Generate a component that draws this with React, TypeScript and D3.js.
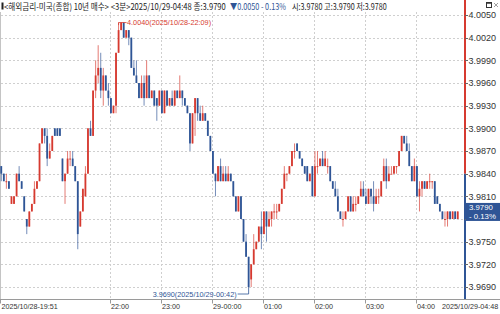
import React, { useLayoutEffect, useRef, useState } from "react";
import * as d3 from "d3";

// ---- data (3-minute candles, 2025/10/28-19:51 .. 2025/10/29-04:48) ----
const START_LABEL = "2025/10/28-19:51";
const END_LABEL = "2025/10/29-04:48";
const START_HOUR = 19;
const START_MIN = 51;
const BAR_MINUTES = 3;

const OPEN = [
  3.985, 3.984, 3.983, 3.983, 3.980, 3.980, 3.981, 3.984, 3.983, 3.981,
  3.978, 3.977, 3.979, 3.980, 3.982, 3.983, 3.988, 3.990, 3.989, 3.986,
  3.987, 3.990, 3.990, 3.990, 3.986, 3.983, 3.984, 3.986, 3.986, 3.985,
  3.983, 3.977, 3.979, 3.981, 3.984, 3.990, 3.989, 3.995, 3.997, 3.998,
  3.995, 3.997, 3.995, 3.994, 3.992, 3.993, 4.000, 4.003, 4.004, 4.002,
  4.003, 4.002, 3.998, 3.997, 3.996, 3.994, 3.996, 3.994, 3.997, 3.994,
  3.995, 3.994, 3.993, 3.995, 3.992, 3.995, 3.993, 3.994, 3.993, 3.995,
  3.994, 3.995, 3.994, 3.993, 3.992, 3.988, 3.992, 3.994, 3.992, 3.991,
  3.992, 3.991, 3.989, 3.987, 3.984, 3.983, 3.985, 3.983, 3.984, 3.983,
  3.984, 3.983, 3.981, 3.979, 3.981, 3.978, 3.975, 3.973, 3.970, 3.972,
  3.974, 3.975, 3.977, 3.976, 3.979, 3.977, 3.978, 3.979, 3.979, 3.979,
  3.980, 3.982, 3.984, 3.984, 3.985, 3.987, 3.988, 3.987, 3.986, 3.985,
  3.985, 3.983, 3.985, 3.981, 3.985, 3.985, 3.986, 3.985, 3.985, 3.985,
  3.983, 3.982, 3.981, 3.979, 3.978, 3.978, 3.979, 3.981, 3.979, 3.980,
  3.980, 3.981, 3.982, 3.981, 3.980, 3.982, 3.981, 3.980, 3.981, 3.981,
  3.983, 3.985, 3.983, 3.984, 3.984, 3.985, 3.985, 3.987, 3.989, 3.988,
  3.987, 3.985, 3.983, 3.985, 3.981, 3.982, 3.983, 3.982, 3.983, 3.983,
  3.983, 3.981, 3.980, 3.979, 3.978, 3.978, 3.979, 3.978, 3.979, 3.978,
];
const HIGH = [
  3.985, 3.984, 3.984, 3.983, 3.981, 3.981, 3.984, 3.985, 3.983, 3.981,
  3.978, 3.979, 3.980, 3.983, 3.983, 3.988, 3.990, 3.990, 3.990, 3.988,
  3.989, 3.990, 3.990, 3.990, 3.986, 3.984, 3.987, 3.987, 3.987, 3.985,
  3.983, 3.979, 3.982, 3.985, 3.990, 3.991, 3.995, 3.999, 4.001, 4.000,
  3.998, 3.997, 3.996, 3.994, 3.993, 4.000, 4.004, 4.004, 4.004, 4.003,
  4.003, 4.002, 3.999, 3.999, 3.996, 3.997, 3.997, 3.999, 3.997, 3.995,
  3.995, 3.994, 3.995, 3.995, 3.995, 3.995, 3.994, 3.995, 3.995, 3.995,
  3.997, 3.995, 3.994, 3.993, 3.992, 3.992, 3.994, 3.994, 3.993, 3.993,
  3.992, 3.991, 3.989, 3.987, 3.984, 3.985, 3.986, 3.985, 3.985, 3.985,
  3.984, 3.983, 3.981, 3.981, 3.981, 3.978, 3.976, 3.973, 3.972, 3.976,
  3.975, 3.977, 3.979, 3.979, 3.979, 3.979, 3.979, 3.980, 3.980, 3.980,
  3.982, 3.985, 3.984, 3.985, 3.987, 3.988, 3.988, 3.987, 3.986, 3.985,
  3.985, 3.984, 3.985, 3.987, 3.987, 3.986, 3.987, 3.987, 3.986, 3.985,
  3.983, 3.983, 3.982, 3.979, 3.979, 3.979, 3.981, 3.981, 3.981, 3.981,
  3.981, 3.983, 3.983, 3.982, 3.982, 3.982, 3.983, 3.982, 3.982, 3.983,
  3.986, 3.986, 3.985, 3.985, 3.985, 3.985, 3.987, 3.989, 3.989, 3.989,
  3.988, 3.985, 3.986, 3.985, 3.983, 3.983, 3.983, 3.983, 3.984, 3.983,
  3.983, 3.981, 3.980, 3.979, 3.979, 3.979, 3.979, 3.979, 3.979, 3.979,
];
const LOW = [
  3.983, 3.983, 3.982, 3.982, 3.980, 3.980, 3.981, 3.983, 3.982, 3.979,
  3.976, 3.977, 3.979, 3.980, 3.982, 3.983, 3.988, 3.988, 3.985, 3.986,
  3.987, 3.989, 3.989, 3.989, 3.983, 3.980, 3.984, 3.985, 3.985, 3.983,
  3.974, 3.977, 3.979, 3.981, 3.984, 3.989, 3.989, 3.994, 3.996, 3.994,
  3.993, 3.995, 3.993, 3.992, 3.992, 3.992, 4.000, 4.003, 4.002, 4.002,
  4.001, 3.998, 3.997, 3.996, 3.994, 3.994, 3.993, 3.994, 3.994, 3.994,
  3.993, 3.991, 3.993, 3.992, 3.992, 3.993, 3.993, 3.993, 3.993, 3.994,
  3.994, 3.993, 3.993, 3.992, 3.987, 3.988, 3.989, 3.991, 3.991, 3.991,
  3.991, 3.989, 3.987, 3.984, 3.981, 3.983, 3.983, 3.983, 3.983, 3.983,
  3.983, 3.981, 3.979, 3.979, 3.978, 3.975, 3.973, 3.969, 3.969, 3.972,
  3.974, 3.975, 3.974, 3.976, 3.975, 3.977, 3.977, 3.978, 3.978, 3.979,
  3.980, 3.982, 3.983, 3.984, 3.985, 3.986, 3.987, 3.986, 3.985, 3.984,
  3.983, 3.983, 3.981, 3.981, 3.984, 3.985, 3.985, 3.985, 3.984, 3.983,
  3.982, 3.981, 3.979, 3.978, 3.977, 3.978, 3.979, 3.979, 3.979, 3.979,
  3.980, 3.981, 3.981, 3.980, 3.980, 3.980, 3.979, 3.980, 3.980, 3.981,
  3.983, 3.982, 3.983, 3.984, 3.984, 3.984, 3.985, 3.987, 3.988, 3.987,
  3.985, 3.983, 3.983, 3.981, 3.979, 3.981, 3.982, 3.982, 3.982, 3.982,
  3.980, 3.980, 3.979, 3.978, 3.977, 3.977, 3.978, 3.978, 3.978, 3.978,
];
const CLOSE = [
  3.984, 3.983, 3.983, 3.982, 3.981, 3.981, 3.984, 3.983, 3.982, 3.979,
  3.977, 3.979, 3.980, 3.982, 3.983, 3.988, 3.990, 3.989, 3.986, 3.987,
  3.989, 3.989, 3.989, 3.989, 3.983, 3.984, 3.986, 3.986, 3.985, 3.983,
  3.976, 3.979, 3.982, 3.984, 3.990, 3.989, 3.995, 3.997, 3.998, 3.995,
  3.997, 3.995, 3.994, 3.992, 3.993, 4.000, 4.003, 4.004, 4.002, 4.003,
  4.002, 3.998, 3.997, 3.996, 3.994, 3.996, 3.994, 3.997, 3.994, 3.995,
  3.993, 3.993, 3.995, 3.992, 3.995, 3.993, 3.994, 3.993, 3.995, 3.994,
  3.995, 3.994, 3.993, 3.992, 3.988, 3.992, 3.994, 3.992, 3.991, 3.992,
  3.991, 3.989, 3.987, 3.984, 3.983, 3.985, 3.983, 3.984, 3.983, 3.984,
  3.983, 3.981, 3.979, 3.981, 3.978, 3.975, 3.973, 3.969, 3.972, 3.974,
  3.975, 3.977, 3.976, 3.979, 3.977, 3.978, 3.979, 3.979, 3.979, 3.980,
  3.982, 3.984, 3.984, 3.985, 3.987, 3.987, 3.987, 3.986, 3.985, 3.984,
  3.983, 3.984, 3.981, 3.985, 3.985, 3.986, 3.985, 3.986, 3.985, 3.983,
  3.982, 3.981, 3.979, 3.978, 3.978, 3.979, 3.981, 3.979, 3.980, 3.980,
  3.981, 3.982, 3.981, 3.980, 3.982, 3.981, 3.980, 3.981, 3.981, 3.983,
  3.985, 3.983, 3.984, 3.984, 3.985, 3.985, 3.987, 3.989, 3.988, 3.987,
  3.985, 3.983, 3.985, 3.981, 3.982, 3.983, 3.982, 3.983, 3.983, 3.983,
  3.980, 3.980, 3.979, 3.978, 3.978, 3.979, 3.978, 3.979, 3.978, 3.979,
];

const PREV_CLOSE = 3.984;
const LAST_PRICE = 3.979;
const LAST_PCT = "- 0.13%";

const Y_TICKS = [4.005, 4.002, 3.999, 3.996, 3.993, 3.990, 3.987, 3.984, 3.981, 3.978, 3.975, 3.972, 3.969];
const X_TICK_LABELS = ["22:00", "23:00", "29-00:00", "01:00", "02:00", "03:00", "04:00"];
const X_TICK_BARS = [43, 63, 83, 103, 123, 143, 163];

const TITLE_MAIN = "<해외금리-미국(종합) 10년 매수> <3분>2025/10/29-04:48 종:3.9790";
const TITLE_CHANGE = "▼0.0050 - 0.13%";
const TITLE_OHL = "시:3.9780 고:3.9790 저:3.9780";

const UP = "#d63a30";
const DOWN = "#2f5596";
const FONT = "'Liberation Sans', Arial, sans-serif";
const KFONT = "'Noto Sans CJK KR', 'Liberation Sans', sans-serif";

function barTime(i: number): string {
  const total = START_HOUR * 60 + START_MIN + i * BAR_MINUTES;
  const day = total >= 24 * 60 ? 29 : 28;
  const m = total % (24 * 60);
  const hh = String(Math.floor(m / 60)).padStart(2, "0");
  const mm = String(m % 60).padStart(2, "0");
  return `2025/10/${day}-${hh}:${mm}`;
}

// text squeezed horizontally (via transform) to a target width
function FitText(props: { x: number; y: number; width: number; text: string; fill: string; fontSize: number; fontFamily: string }) {
  const ref = useRef<SVGTextElement>(null);
  const [s, setS] = useState(1);
  useLayoutEffect(() => {
    if (ref.current) {
      const w = ref.current.getComputedTextLength();
      if (w > 0) setS(props.width / w);
    }
  }, [props.width, props.text]);
  return (
    <text ref={ref} transform={`translate(${props.x},${props.y}) scale(${s},1)`} fill={props.fill}
      fontSize={props.fontSize} fontFamily={props.fontFamily}>{props.text}</text>
  );
}

export default function App() {
  const W = 500;
  const H = 314;
  const plotRight = 465;
  const axisY = 299.5;
  const n = CLOSE.length;

  const x = d3.scaleLinear().domain([0, n]).range([0, 459]);
  const cx = (i: number) => x(i + 0.5);
  const y = d3.scaleLinear().domain([3.969, 4.005]).range([287, 15]);
  const fmt = d3.format(".4f");

  const maxIdx = d3.maxIndex(HIGH);
  const minIdx = d3.minIndex(LOW);
  const prevY = y(PREV_CLOSE);
  const lastY = y(LAST_PRICE);

  const maxX = cx(maxIdx);
  const maxY = y(HIGH[maxIdx]);
  const minX = cx(minIdx);
  const minY = y(LOW[minIdx]);
  const maxLabel = `${fmt(HIGH[maxIdx])}(${barTime(maxIdx)})`;
  const minLabel = `${fmt(LOW[minIdx])}(${barTime(minIdx)})`;

  return (
    <div style={{ position: "absolute", left: 0, top: 0, width: W, height: H, background: "#fff" }}>
      <svg width={W} height={H} style={{ display: "block" }}>
        <rect x={0} y={0} width={W} height={H} fill="#fff" />

        {/* horizontal grid */}
        {Y_TICKS.map((v) => (
          <line key={"hg" + v} x1={1} x2={plotRight - 1} y1={Math.round(y(v)) + 0.5} y2={Math.round(y(v)) + 0.5}
            stroke="#cfcfcf" strokeDasharray="2,2" strokeWidth={1} />
        ))}
        {/* vertical grid */}
        {X_TICK_BARS.map((b) => (
          <line key={"vg" + b} x1={Math.round(x(b)) + 0.5} x2={Math.round(x(b)) + 0.5} y1={12} y2={axisY}
            stroke="#cfcfcf" strokeDasharray="2,2" strokeWidth={1} />
        ))}
        {/* left border */}
        <line x1={0.5} x2={0.5} y1={12} y2={axisY} stroke="#c4c4c4" />

        {/* candles */}
        {CLOSE.map((c, i) => {
          const o = OPEN[i];
          const col = c >= o ? UP : DOWN;
          const yTop = y(Math.max(o, c));
          const hBody = Math.max(1, Math.abs(y(o) - y(c)));
          return (
            <g key={"c" + i}>
              <line x1={cx(i)} x2={cx(i)} y1={y(HIGH[i])} y2={y(LOW[i])} stroke={col} strokeWidth={0.9} strokeOpacity={0.75} />
              <rect x={cx(i) - 0.9} y={yTop} width={1.8} height={hBody} fill={col} />
            </g>
          );
        })}

        {/* max annotation */}
        <path d={`M${maxX},${maxY + 2.5} V${maxY} H${maxX + 8}`} fill="none" stroke={UP} strokeWidth={0.8} />
        <text x={maxX + 8.5} y={maxY + 2.8} fontFamily={FONT} fontSize={7.5} fill={UP}
          textLength={84} lengthAdjust="spacingAndGlyphs">{maxLabel}</text>

        {/* min annotation */}
        <path d={`M${minX},${minY} V${minY + 7} H${minX - 11}`} fill="none" stroke={DOWN} strokeWidth={0.8} />
        <text x={minX - 96} y={minY + 9.6} fontFamily={FONT} fontSize={7.5} fill={DOWN}
          textLength={84} lengthAdjust="spacingAndGlyphs">{minLabel}</text>

        {/* right axis line */}
        <line x1={plotRight} x2={plotRight} y1={0} y2={prevY} stroke={UP} strokeWidth={2} />
        <line x1={plotRight} x2={plotRight} y1={prevY} y2={axisY} stroke={DOWN} strokeWidth={2} />
        {Y_TICKS.map((v) => (
          <g key={"yt" + v}>
            <line x1={plotRight} x2={plotRight + 3} y1={Math.round(y(v)) + 0.5} y2={Math.round(y(v)) + 0.5} stroke="#666" />
            {Math.abs(y(v) - lastY) > 10 && (
              <text x={plotRight + 3.5} y={y(v) + 3.2} fontFamily={FONT} fontSize={9} fill="#333">{fmt(v)}</text>
            )}
          </g>
        ))}

        {/* last price box */}
        <rect x={plotRight + 1} y={lastY - 8.5} width={W - plotRight - 1} height={18} fill={DOWN} />
        <text x={plotRight + 4} y={lastY - 1} fontFamily={FONT} fontSize={7.8} fill="#fff">{fmt(LAST_PRICE)}</text>
        <text x={plotRight + 4} y={lastY + 7.6} fontFamily={FONT} fontSize={7.8} fill="#fff">{LAST_PCT}</text>

        {/* bottom axis */}
        <line x1={0} x2={W} y1={axisY} y2={axisY} stroke="#9a9a9a" />
        <line x1={0.5} x2={0.5} y1={axisY} y2={axisY + 4} stroke="#9a9a9a" />
        <text x={1.5} y={309} fontFamily={FONT} fontSize={7.2} fill="#333">{START_LABEL}</text>
        {X_TICK_BARS.map((b, k) => (
          <g key={"xt" + b}>
            <line x1={Math.round(x(b)) + 0.5} x2={Math.round(x(b)) + 0.5} y1={axisY} y2={axisY + 4} stroke="#9a9a9a" />
            <text x={Math.round(x(b)) + 1} y={309} fontFamily={FONT} fontSize={7.2} fill="#333">{X_TICK_LABELS[k]}</text>
          </g>
        ))}
        <text x={442} y={309} fontFamily={FONT} fontSize={7.2} fill="#333">{END_LABEL}</text>

        {/* header */}
        <rect x={1.5} y={2.5} width={2} height={7} fill="#222" />
        <FitText x={4} y={10.3} width={222} text={TITLE_MAIN} fill="#222" fontSize={8.8} fontFamily={KFONT} />
        <FitText x={230} y={10.3} width={56} text={TITLE_CHANGE} fill={DOWN} fontSize={8.8} fontFamily={KFONT} />
        <FitText x={292} y={10.3} width={95} text={TITLE_OHL} fill="#222" fontSize={8.8} fontFamily={KFONT} />

        {/* window icons */}
        <rect x={486.5} y={2.5} width={5} height={5} fill="none" stroke="#333" />
        <line x1={486.5} x2={491.5} y1={3} y2={3} stroke="#333" strokeWidth={1.5} />
        <path d="M494,3 L498,7 M498,3 L494,7" stroke="#888" strokeWidth={0.8} />
      </svg>
    </div>
  );
}
